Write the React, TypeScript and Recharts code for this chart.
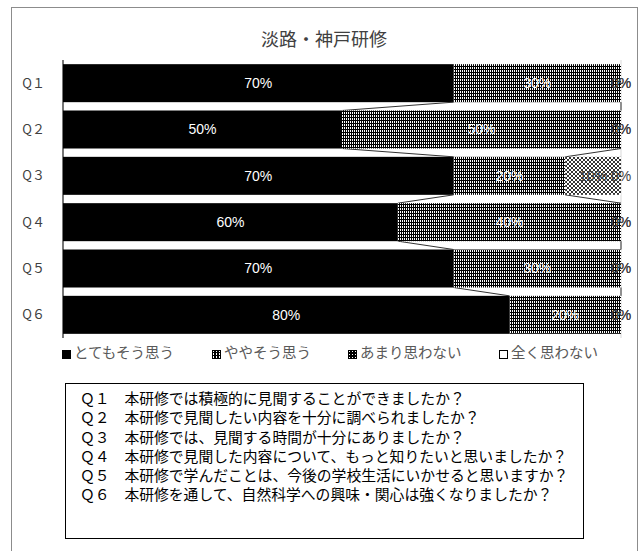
import React from "react";
import {
  BarChart,
  Bar,
  XAxis,
  YAxis,
  CartesianGrid,
  LabelList,
} from "recharts";

const questions = ["Q１", "Q２", "Q３", "Q４", "Q５", "Q６"];
const veryMuch = [70, 50, 70, 60, 70, 80];
const somewhat = [30, 50, 20, 40, 30, 20];
const notMuch = [0, 0, 10, 0, 0, 0];
const notAtAll = [0, 0, 0, 0, 0, 0];
const seriesNames = ["とてもそう思う", "ややそう思う", "あまり思わない", "全く思わない"];
const xTicks = [0, 10, 20, 30, 40, 50, 60, 70, 80, 90, 100];
const questionLabels = ["Ｑ１", "Ｑ２", "Ｑ３", "Ｑ４", "Ｑ５", "Ｑ６"];
const questionTexts = [
  "本研修では積極的に見聞することができましたか？",
  "本研修で見聞したい内容を十分に調べられましたか？",
  "本研修では、見聞する時間が十分にありましたか？",
  "本研修で見聞した内容について、もっと知りたいと思いましたか？",
  "本研修で学んだことは、今後の学校生活にいかせると思いますか？",
  "本研修を通して、自然科学への興味・関心は強くなりましたか？",
];

const data = questions.map((q, i) => ({
  q,
  s1: veryMuch[i],
  s2: somewhat[i],
  s3: notMuch[i],
  s4: notAtAll[i],
}));

const W = 641;
const H = 551;
const MARGIN = { top: 60, right: 20, bottom: 208, left: 13 };
const Y_AXIS_W = 50;
const X_AXIS_H = 5;
const PLOT_W = W - MARGIN.left - Y_AXIS_W - MARGIN.right;
const PLOT_H = H - MARGIN.top - MARGIN.bottom - X_AXIS_H;

const ends1 = veryMuch;
const ends2 = veryMuch.map((v, i) => v + somewhat[i]);

const JP = '"Noto Sans CJK JP", sans-serif';
const SANS = '"Liberation Sans", Arial, sans-serif';

const fills = ["#000", "url(#pDots)", "url(#pHatch)", "#fff"];

// bar rect + the Excel-style "series line" back to the previous row
const makeShape = (ends: number[] | null, fill: string) => (props: any) => {
  const { x, y, width, height, index } = props;
  if (width == null || height == null) return <g />;
  const band = PLOT_H / questions.length;
  const gap = band - height;
  const ppu = PLOT_W / 100;
  const end = x + width;
  let link = null;
  if (ends && index > 0) {
    const prevEnd = end + (ends[index - 1] - ends[index]) * ppu;
    link = (
      <line x1={prevEnd} y1={y - gap} x2={end} y2={y} stroke="#333" strokeWidth={1} />
    );
  }
  return (
    <g>
      {width > 0 && <rect x={x} y={y} width={width} height={height} fill={fill} />}
      {link}
    </g>
  );
};

const pct = (v: any) => `${v}%`;

const Swatch = ({ i }: { i: number }) => (
  <svg width={9} height={9} style={{ marginRight: 3, verticalAlign: "-1px" }}>
    <defs>
      <pattern id={`sd${i}`} width="3" height="3" patternUnits="userSpaceOnUse">
        <rect width="3" height="3" fill="#000" />
        <rect x="1" y="0" width="1" height="2" fill="#fff" />
      </pattern>
      <pattern id={`sh${i}`} width="3" height="3" patternUnits="userSpaceOnUse">
        <rect width="3" height="3" fill="#000" />
        <rect x="1" y="1" width="1" height="1" fill="#fff" />
      </pattern>
    </defs>
    <rect
      x={0.5}
      y={0.5}
      width={8}
      height={8}
      fill={i === 0 ? "#000" : i === 1 ? `url(#sd${i})` : i === 2 ? `url(#sh${i})` : "#fff"}
      stroke="#000"
    />
  </svg>
);

const legendLeft = [62, 212, 348, 499];

export default function App() {
  return (
    <div
      style={{
        position: "absolute",
        left: 0,
        top: 0,
        width: W,
        height: H,
        overflow: "hidden",
        background: "#fff",
      }}
    >
      <div
        style={{
          position: "absolute",
          left: 11,
          top: 7,
          width: 625,
          height: 600,
          border: "1px solid #8c8c8c",
        }}
      />
      <div
        style={{
          position: "absolute",
          left: 0,
          width: 648,
          top: 25,
          textAlign: "center",
          fontFamily: JP,
          fontSize: 18,
          color: "#404040",
        }}
      >
        淡路・神戸研修
      </div>
      <div style={{ position: "absolute", left: 0, top: 0 }}>
        <BarChart
          width={W}
          height={H}
          data={data}
          layout="vertical"
          margin={MARGIN}
          barCategoryGap="9%"
        >
          <defs>
            <pattern id="pDots" width="2" height="3" patternUnits="userSpaceOnUse">
              <rect width="2" height="3" fill="#000" />
              <rect x="0" y="1" width="1" height="2" fill="#fff" />
            </pattern>
            <pattern id="pHatch" width="4" height="4" patternUnits="userSpaceOnUse">
              <rect width="4" height="4" fill="#fff" />
              <path d="M0,0 L4,4 M4,0 L0,4" stroke="#000" strokeWidth={0.8} />
            </pattern>
          </defs>
          <CartesianGrid horizontal={false} stroke="#d9d9d9" />
          <XAxis
            type="number"
            domain={[0, 100]}
            ticks={xTicks}
            height={X_AXIS_H}
            tick={false}
            axisLine={false}
            tickLine={{ stroke: "#d9d9d9" }}
            tickSize={5}
          />
          <YAxis
            type="category"
            dataKey="q"
            width={Y_AXIS_W}
            axisLine={{ stroke: "#000" }}
            tickLine={false}
            tickSize={0}
            tickMargin={18}
            tick={{ fill: "#404040", fontSize: 13, fontFamily: JP }}
          />
          <Bar
            dataKey="s1"
            name={seriesNames[0]}
            stackId="a"
            fill={fills[0]}
            isAnimationActive={false}
            shape={makeShape(ends1, fills[0])}
          >
            <LabelList
              dataKey="s1"
              position="center"
              formatter={pct}
              fill="#fff"
              fontSize={14}
              fontFamily={SANS}
            />
          </Bar>
          <Bar
            dataKey="s2"
            name={seriesNames[1]}
            stackId="a"
            fill={fills[1]}
            isAnimationActive={false}
            shape={makeShape(ends2, fills[1])}
          >
            <LabelList
              dataKey="s2"
              position="center"
              formatter={pct}
              fill="#fff"
              fontSize={14}
              fontFamily={SANS}
            />
          </Bar>
          <Bar
            dataKey="s3"
            name={seriesNames[2]}
            stackId="a"
            fill={fills[2]}
            isAnimationActive={false}
            shape={makeShape(null, fills[2])}
          >
            <LabelList
              dataKey="s3"
              position="center"
              formatter={pct}
              fill="#404040"
              fontSize={14}
              fontFamily={SANS}
            />
          </Bar>
          <Bar
            dataKey="s4"
            name={seriesNames[3]}
            stackId="a"
            fill={fills[3]}
            isAnimationActive={false}
            shape={makeShape(null, fills[3])}
          >
            <LabelList
              dataKey="s4"
              position="center"
              formatter={pct}
              fill="#404040"
              fontSize={14}
              fontFamily={SANS}
            />
          </Bar>
        </BarChart>
      </div>
      {seriesNames.map((name, i) => (
        <div
          key={name}
          style={{
            position: "absolute",
            left: legendLeft[i],
            top: 342,
            fontFamily: JP,
            fontSize: 14.5,
            color: "#595959",
            whiteSpace: "nowrap",
            lineHeight: "20px",
          }}
        >
          <Swatch i={i} />
          {name}
        </div>
      ))}
      <div
        style={{
          position: "absolute",
          left: 65,
          top: 383,
          width: 519,
          height: 156,
          border: "1px solid #000",
          boxSizing: "border-box",
          paddingTop: 4,
          paddingLeft: 14,
          fontFamily: JP,
          fontSize: 14.8,
          lineHeight: "19.3px",
          color: "#000",
        }}
      >
        {questionTexts.map((t, i) => (
          <div key={i} style={{ whiteSpace: "nowrap" }}>
            {questionLabels[i]}　{t}
          </div>
        ))}
      </div>
    </div>
  );
}
